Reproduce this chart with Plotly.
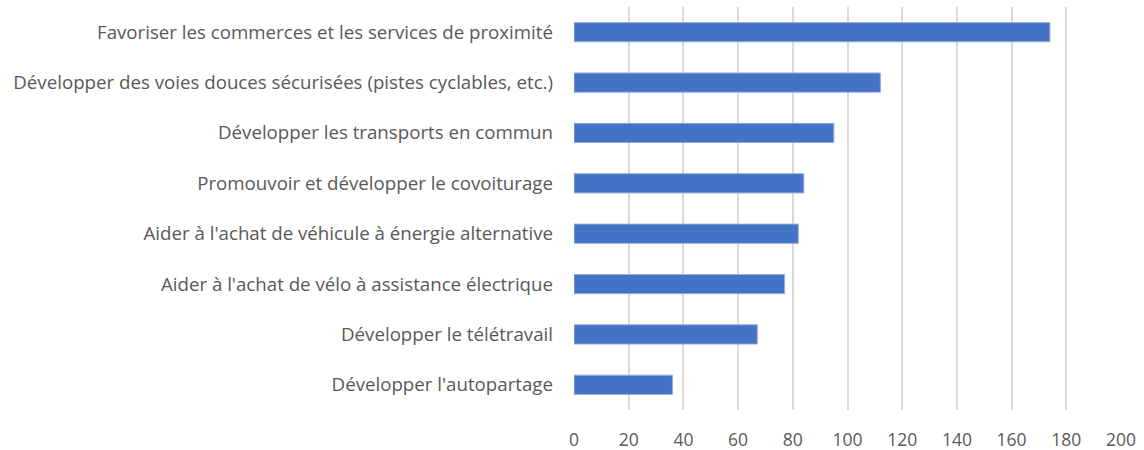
import plotly.graph_objects as go

categories = [
    "Favoriser les commerces et les services de proximité",
    "Développer des voies douces sécurisées (pistes cyclables, etc.)",
    "Développer les transports en commun",
    "Promouvoir et développer le covoiturage",
    "Aider à l'achat de véhicule à énergie alternative",
    "Aider à l'achat de vélo à assistance électrique",
    "Développer le télétravail",
    "Développer l'autopartage",
]
values = [174, 112, 95, 84, 82, 77, 67, 36]
x_ticks = [0, 20, 40, 60, 80, 100, 120, 140, 160, 180, 200]

fig = go.Figure(go.Bar(
    y=categories, x=values, orientation="h",
    marker=dict(color="#4472C4", line=dict(color="#8FAADC", width=1)),
    width=0.38,
))

fig.update_layout(
    width=1144, height=450,
    margin=dict(l=574, r=23, t=7, b=40),
    paper_bgcolor="white", plot_bgcolor="white",
    font=dict(family="Open Sans, Liberation Sans, Arial, sans-serif", size=17, color="#595959"),
    showlegend=False,
)
fig.update_xaxes(
    range=[0, 200], tickvals=x_ticks, showgrid=True, gridcolor="#D9D9D9", gridwidth=1.5,
    zeroline=False, showline=False, ticks="", ticklabelstandoff=17, automargin=False,
    tickfont=dict(size=17.5, color="#595959"),
)
fig.update_yaxes(
    autorange="reversed", showgrid=False, zeroline=False, showline=False,
    ticks="", ticklabelstandoff=20, automargin=False,
    tickfont=dict(size=18.7, color="#595959"),
)
fig.write_html("out.html", config={"displayModeBar": False},
               post_script="document.body.style.margin='0px';")
